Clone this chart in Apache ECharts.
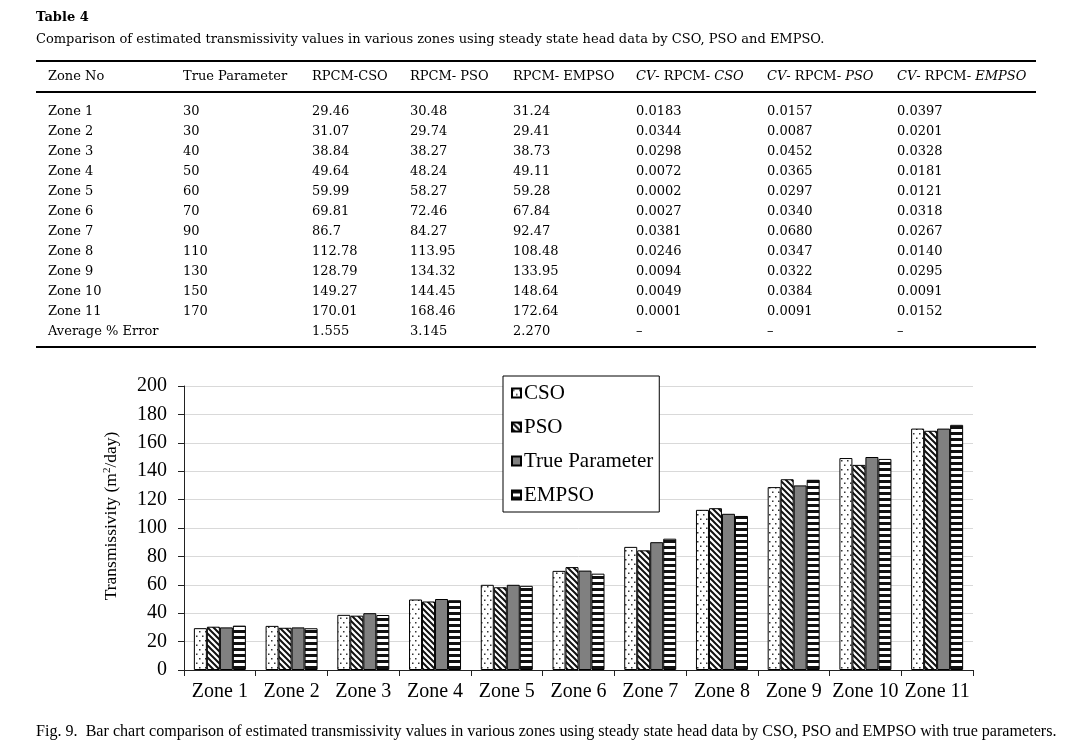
<!DOCTYPE html>
<html>
<head>
<meta charset="utf-8">
<script src="https://cdn.jsdelivr.net/npm/echarts@6/dist/echarts.min.js"></script>
<style>
  html, body { margin: 0; padding: 0; background: #fff; }
  #page { position: relative; width: 1076px; height: 749px; overflow: hidden; font-family: 'Liberation Serif', serif; color: #000; }
  #chart { position: absolute; left: 0; top: 0; width: 1076px; height: 749px; }
  .txt { position: absolute; white-space: nowrap; font-family: 'DejaVu Serif', serif; font-size: 13px; line-height: 16px; }
  .rule { position: absolute; left: 36px; width: 1000px; height: 1.5px; background: #000; }
</style>
</head>
<body>
<div id="page">
  <div id="chart"></div>
  <div id="table"></div>
</div>
<script>
// categories and values
var zones = ['Zone 1', 'Zone 2', 'Zone 3', 'Zone 4', 'Zone 5', 'Zone 6', 'Zone 7', 'Zone 8', 'Zone 9', 'Zone 10', 'Zone 11'];
var trueParam = [30, 30, 40, 50, 60, 70, 90, 110, 130, 150, 170];
var csoVals = [29.46, 31.07, 38.84, 49.64, 59.99, 69.81, 86.7, 112.78, 128.79, 149.27, 170.01];
var psoVals = [30.48, 29.74, 38.27, 48.24, 58.27, 72.46, 84.27, 113.95, 134.32, 144.45, 168.46];
var empsoVals = [31.24, 29.41, 38.73, 49.11, 59.28, 67.84, 92.47, 108.48, 133.95, 148.64, 172.64];
var cvCso = ['0.0183', '0.0344', '0.0298', '0.0072', '0.0002', '0.0027', '0.0381', '0.0246', '0.0094', '0.0049', '0.0001'];
var cvPso = ['0.0157', '0.0087', '0.0452', '0.0365', '0.0297', '0.0340', '0.0680', '0.0347', '0.0322', '0.0384', '0.0091'];
var cvEmpso = ['0.0397', '0.0201', '0.0328', '0.0181', '0.0121', '0.0318', '0.0267', '0.0140', '0.0295', '0.0091', '0.0152'];
var avgError = ['1.555', '3.145', '2.270'];
var yTicks = [0, 200, 20];

var headers = ['Zone No', 'True Parameter', 'RPCM-CSO', 'RPCM- PSO', 'RPCM- EMPSO',
  '<i>CV</i>- RPCM- <i>CSO</i>', '<i>CV</i>- RPCM- <i>PSO</i>', '<i>CV</i>- RPCM- <i>EMPSO</i>'];

/* table (plain html text) */
var colX = [48, 183, 312, 410, 513, 636, 767, 897];
var html = '';
html += '<div class="txt" style="left:36px;top:9px;font-weight:bold;">Table 4</div>';
html += '<div class="txt" style="left:36px;top:31px;">Comparison of estimated transmissivity values in various zones using steady state head data by CSO, PSO and EMPSO.</div>';
html += '<div class="rule" style="top:60px"></div>';
html += '<div class="rule" style="top:91px"></div>';
html += '<div class="rule" style="top:346px"></div>';
function row(cells, yc) {
  var s = '';
  for (var c = 0; c < cells.length; c++) {
    s += '<div class="txt" style="left:' + colX[c] + 'px;top:' + (yc - 8) + 'px;">' + cells[c] + '</div>';
  }
  return s;
}
html += row(headers, 76);
for (var i = 0; i < zones.length; i++) {
  html += row([zones[i], String(trueParam[i]), String(csoVals[i]), String(psoVals[i]), String(empsoVals[i]),
    cvCso[i], cvPso[i], cvEmpso[i]], 111 + 20 * i);
}
html += row(['Average % Error', '', avgError[0], avgError[1], avgError[2], '\u2013', '\u2013', '\u2013'], 331);
html += '<div class="txt" style="left:36px;top:722px;font-family:\'Liberation Serif\',serif;font-size:16.1px;line-height:18px;">Fig. 9.&nbsp; Bar chart comparison of estimated transmissivity values in various zones using steady state head data by CSO, PSO and EMPSO with true parameters.</div>';
document.getElementById('table').innerHTML = html;

/* fill patterns */
function makeTile(w, h, draw) {
  var cv = document.createElement('canvas');
  cv.width = w; cv.height = h;
  var ctx = cv.getContext('2d');
  draw(ctx, w, h);
  return cv;
}
var dotsTile = makeTile(6, 9, function (ctx, w, h) {
  ctx.fillStyle = '#fff'; ctx.fillRect(0, 0, w, h);
  ctx.fillStyle = '#333';
  ctx.fillRect(1, 1, 1.5, 1.5);
  ctx.fillRect(4, 5.5, 1.5, 1.5);
});
var diagTile = makeTile(6, 6, function (ctx, w, h) {
  ctx.fillStyle = '#fff'; ctx.fillRect(0, 0, w, h);
  ctx.strokeStyle = '#111'; ctx.lineWidth = 2;
  ctx.beginPath();
  ctx.moveTo(-1, -1); ctx.lineTo(w + 1, h + 1);
  ctx.moveTo(-w - 1, -1); ctx.lineTo(1, h + 1);
  ctx.moveTo(w - 1, -1); ctx.lineTo(2 * w + 1, h + 1);
  ctx.stroke();
});
var stripeTile = makeTile(4, 6, function (ctx, w, h) {
  ctx.fillStyle = '#fff'; ctx.fillRect(0, 0, w, h);
  ctx.fillStyle = '#111'; ctx.fillRect(0, 0, w, 3);
});

var serif = 'Liberation Serif';
var myChart = echarts.init(document.getElementById('chart'));

function barSeries(name, values, fill) {
  return {
    name: name,
    type: 'bar',
    data: values,
    barWidth: 13,
    barGap: '0%',
    itemStyle: {
      color: fill,
      borderColor: '#000',
      borderWidth: 1
    }
  };
}

var option = {
  animation: false,
  backgroundColor: 'transparent',
  grid: { left: 184, right: 103, top: 386, bottom: 79, containLabel: false },
  legend: {
    left: 503,
    top: 376,
    orient: 'vertical',
    icon: 'rect',
    itemWidth: 9,
    itemHeight: 9,
    itemGap: 12,
    padding: [6, 6, 6, 8],
    backgroundColor: '#fff',
    borderColor: '#000',
    borderWidth: 1,
    textStyle: { fontFamily: serif, fontSize: 21, color: '#000', lineHeight: 22, padding: [0, 0, 0, -2] },
    data: ['CSO', 'PSO', 'True Parameter', 'EMPSO']
  },
  xAxis: {
    type: 'category',
    data: zones,
    axisLine: { lineStyle: { color: '#222', width: 1 } },
    axisTick: { show: true, length: 6, lineStyle: { color: '#222' } },
    axisLabel: { interval: 0, fontFamily: serif, fontSize: 20, color: '#000', margin: 12 }
  },
  yAxis: {
    type: 'value',
    min: yTicks[0],
    max: yTicks[1],
    interval: yTicks[2],
    name: 'Transmissivity (m{sup|2}/day)',
    nameLocation: 'middle',
    nameGap: 64,
    nameTextStyle: {
      fontFamily: serif, fontSize: 17.5, color: '#000',
      padding: [0, 0, 0, 24],
      rich: { sup: { fontFamily: serif, fontSize: 11, color: '#000', verticalAlign: 'top', padding: [0, 0, 7, 0] } }
    },
    axisLine: { show: true, lineStyle: { color: '#222', width: 1 } },
    axisTick: { show: true, length: 6, lineStyle: { color: '#222' } },
    axisLabel: { fontFamily: serif, fontSize: 20, color: '#000', margin: 17 },
    splitLine: { lineStyle: { color: '#d9d9d9', width: 1 } }
  },
  series: [
    barSeries('CSO', csoVals, { image: dotsTile, repeat: 'repeat' }),
    barSeries('PSO', psoVals, { image: diagTile, repeat: 'repeat' }),
    barSeries('True Parameter', trueParam, '#808080'),
    barSeries('EMPSO', empsoVals, { image: stripeTile, repeat: 'repeat' })
  ]
};
myChart.setOption(option);
</script>
</body>
</html>
